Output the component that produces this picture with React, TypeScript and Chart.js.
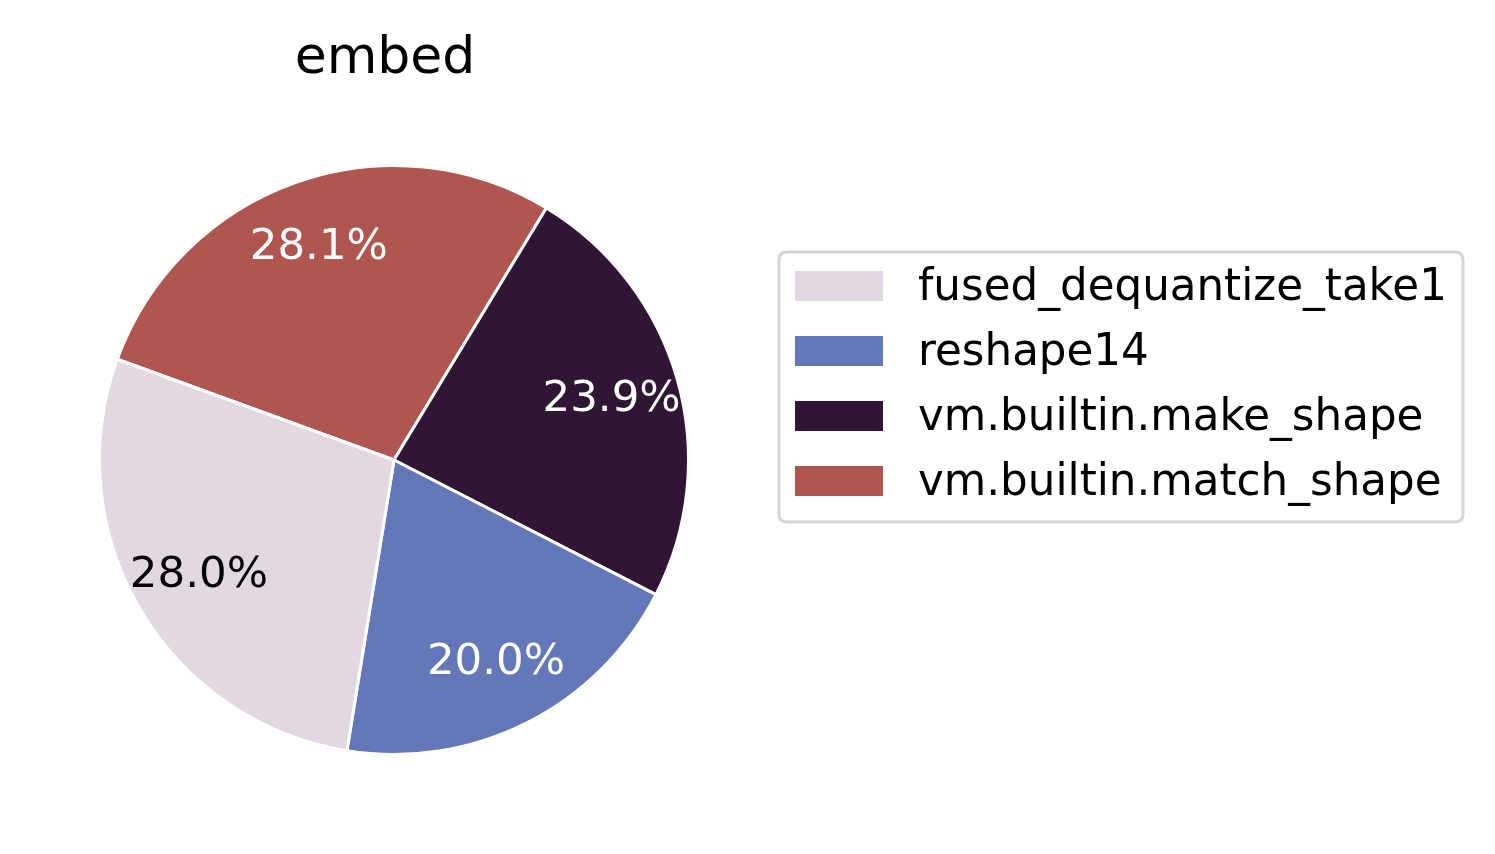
import React, { useEffect, useRef } from "react";
import { Chart, registerables } from "chart.js";

Chart.register(...registerables);

const TITLE = "embed";
const labels = ["fused_dequantize_take1", "reshape14", "vm.builtin.make_shape", "vm.builtin.match_shape"];
const values = [28.0, 20.0, 23.9, 28.1];
const colors = ["#e2d8e1", "#6377b9", "#311534", "#b05650"];
const textColors = ["#000000", "#ffffff", "#ffffff", "#ffffff"];

const W = 1495;
const H = 854;
const FONT = "'DejaVu Sans', sans-serif";

// Chart.js draws clockwise; matplotlib counter-clockwise -> reverse the order for drawing.
const order = [3, 2, 1, 0];

const overlayPlugin = {
  id: "overlay",
  afterDatasetsDraw(chart: any) {
    const ctx = chart.ctx;
    const meta = chart.getDatasetMeta(0);
    const total = values.reduce((a, b) => a + b, 0);
    ctx.save();
    ctx.textAlign = "center";
    ctx.textBaseline = "middle";
    ctx.font = `43.5px ${FONT}`;
    meta.data.forEach((arc: any, i: number) => {
      const idx = order[i];
      const { x, y, startAngle, endAngle, outerRadius } = arc.getProps(
        ["x", "y", "startAngle", "endAngle", "outerRadius"],
        true
      );
      const mid = (startAngle + endAngle) / 2;
      const r = outerRadius * 0.768;
      ctx.fillStyle = textColors[idx];
      const pct = ((values[idx] / total) * 100).toFixed(1) + "%";
      ctx.fillText(pct, x + r * Math.cos(mid), y + r * Math.sin(mid) + 1);
    });

    // title
    ctx.fillStyle = "#000000";
    ctx.font = `52px ${FONT}`;
    ctx.textBaseline = "alphabetic";
    ctx.fillText(TITLE, 385, 73);

    // legend
    const lx = 779, ly = 252, lw = 684, lh = 270, rad = 8;
    ctx.beginPath();
    ctx.moveTo(lx + rad, ly);
    ctx.lineTo(lx + lw - rad, ly);
    ctx.quadraticCurveTo(lx + lw, ly, lx + lw, ly + rad);
    ctx.lineTo(lx + lw, ly + lh - rad);
    ctx.quadraticCurveTo(lx + lw, ly + lh, lx + lw - rad, ly + lh);
    ctx.lineTo(lx + rad, ly + lh);
    ctx.quadraticCurveTo(lx, ly + lh, lx, ly + lh - rad);
    ctx.lineTo(lx, ly + rad);
    ctx.quadraticCurveTo(lx, ly, lx + rad, ly);
    ctx.closePath();
    ctx.fillStyle = "rgba(255,255,255,0.8)";
    ctx.fill();
    ctx.strokeStyle = "#d6d6d6";
    ctx.lineWidth = 3;
    ctx.stroke();

    ctx.font = `43.6px ${FONT}`;
    ctx.textAlign = "left";
    ctx.textBaseline = "middle";
    labels.forEach((lab, i) => {
      const cy = 286 + i * 65;
      ctx.fillStyle = colors[i];
      ctx.fillRect(795, cy - 15, 88, 30);
      ctx.fillStyle = "#000000";
      ctx.fillText(lab, 918, cy + 3);
    });
    ctx.restore();
  },
};

export default function App() {
  const ref = useRef<HTMLCanvasElement | null>(null);
  useEffect(() => {
    if (!ref.current) return;
    const chart = new Chart(ref.current, {
      type: "pie",
      data: {
        labels: order.map((i) => labels[i]),
        datasets: [
          {
            data: order.map((i) => values[i]),
            backgroundColor: order.map((i) => colors[i]),
            borderColor: "#ffffff",
            borderWidth: 3,
            hoverOffset: 0,
          },
        ],
      },
      options: {
        responsive: false,
        animation: false,
        rotation: -70,
        layout: { padding: { left: 98, top: 164, right: 805, bottom: 98 } },
        plugins: {
          legend: { display: false },
          title: { display: false },
          tooltip: { enabled: false },
        },
      },
      plugins: [overlayPlugin],
    });
    return () => chart.destroy();
  }, []);
  return (
    <div style={{ position: "fixed", left: 0, top: 0, width: W, height: H, background: "#ffffff" }}>
      <canvas ref={ref} width={W} height={H} style={{ width: W, height: H, display: "block" }} />
    </div>
  );
}
